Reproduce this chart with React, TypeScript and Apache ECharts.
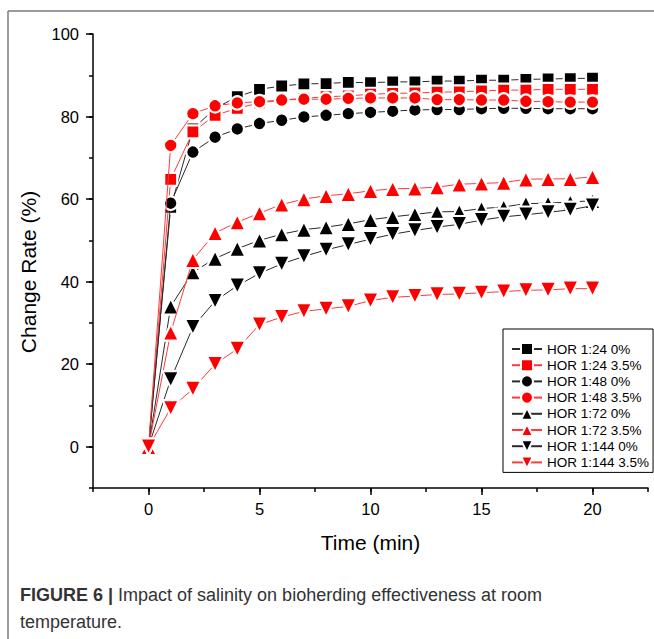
import React, { useEffect, useRef } from "react";
import * as echarts from "echarts";

const times = [0, 1, 2, 3, 4, 5, 6, 7, 8, 9, 10, 11, 12, 13, 14, 15, 16, 17, 18, 19, 20];

const hor24_0 = [0, 58, 77, 82, 84.8, 86.6, 87.4, 87.9, 88, 88.3, 88.2, 88.4, 88.4, 88.6, 88.6, 88.8, 88.8, 89, 89.1, 89.2, 89.3];
const hor24_35 = [0, 64.8, 76.3, 80.3, 82, 83.3, 84, 84.4, 84.8, 85, 85.4, 85.6, 85.7, 85.9, 86, 86.2, 86.4, 86.4, 86.6, 86.6, 86.6];
const hor48_0 = [0, 59, 71.4, 75, 77, 78.3, 79.1, 79.9, 80.3, 80.7, 81, 81.3, 81.6, 81.7, 81.7, 81.9, 82, 82, 81.9, 81.9, 81.9];
const hor48_35 = [0, 73, 80.7, 82.6, 83.3, 83.6, 84, 84.2, 84.2, 84.4, 84.5, 84.5, 84.5, 84.1, 84.1, 84, 84, 83.7, 83.6, 83.5, 83.5];
const hor72_0 = [0, 34, 42.3, 45.6, 48, 50, 51.5, 52.6, 53.2, 54, 55, 55.7, 56.3, 56.9, 57, 57.7, 58.1, 58.9, 59, 59.3, 59.6];
const hor72_35 = [0, 27.7, 45.3, 51.8, 54.4, 56.6, 58.7, 60, 60.8, 61.3, 62, 62.5, 62.6, 62.9, 63.6, 63.8, 64, 64.8, 64.9, 64.9, 65.4];
const hor144_0 = [0, 16.3, 29, 35.3, 39, 42, 44.3, 46.1, 47.7, 49, 50.3, 51.5, 52.4, 53.2, 53.9, 54.9, 55.7, 56.2, 56.8, 57.4, 58.4];
const hor144_35 = [0, 9.3, 14, 20, 23.7, 29.6, 31.4, 32.8, 33.4, 34, 35.4, 36.2, 36.5, 36.9, 37, 37.3, 37.6, 37.9, 38, 38.3, 38.3];

const seriesNames = [
  "HOR 1:24 0%",
  "HOR 1:24 3.5%",
  "HOR 1:48 0%",
  "HOR 1:48 3.5%",
  "HOR 1:72 0%",
  "HOR 1:72 3.5%",
  "HOR 1:144 0%",
  "HOR 1:144 3.5%",
];
const seriesValues = [hor24_0, hor24_35, hor48_0, hor48_35, hor72_0, hor72_35, hor144_0, hor144_35];

const yTickLabels = ["0", "20", "40", "60", "80", "100"];
const xTickLabels = ["0", "5", "10", "15", "20"];

const FONT = "'Liberation Sans', Arial, sans-serif";
const DOWN_TRI = "path://M0,0 L2,0 L1,1.8 Z";
const UP_TRI = "path://M1,0 L2,1.8 L0,1.8 Z";

export default function App() {
  const ref = useRef<HTMLDivElement>(null);

  useEffect(() => {
    if (!ref.current) return;
    const chart = echarts.init(ref.current, null, { renderer: "svg" });

    const symbols = ["rect", "rect", "circle", "circle", UP_TRI, UP_TRI, DOWN_TRI, DOWN_TRI];
    const sizes = [13, 13, 13.5, 13.5, 16.5, 16.5, 16.5, 16.5];

    const series = seriesNames.map((name, i) => {
      const red = i % 2 === 1;
      return {
        name,
        type: "line",
        xAxisIndex: 0,
        yAxisIndex: 0,
        data: times.map((t, k) => [t, seriesValues[i][k]]),
        symbol: symbols[i],
        symbolSize: sizes[i],
        showAllSymbol: true,
        clip: false,
        lineStyle: { color: red ? "#ff3a3a" : "#2a2a2a", width: 1 },
        itemStyle: {
          color: red ? "#ff0000" : "#000000",
          borderColor: "#ffffff",
          borderWidth: 2.2,
        },
        z: 3 + i,
      };
    });

    chart.setOption({
      animation: false,
      textStyle: { fontFamily: FONT },
      grid: [
        { left: 93, right: 6, top: 34, bottom: 151 },
        { left: 148.5, right: 61.5, top: 34, bottom: 192.3 },
      ],
      xAxis: [
        {
          type: "value",
          gridIndex: 0,
          min: -2.5,
          max: 22.5,
          interval: 2.5,
          axisLine: { show: true, onZero: false, lineStyle: { color: "#000", width: 1.5 } },
          axisTick: { show: true, length: 4, lineStyle: { color: "#000", width: 1.5 } },
          axisLabel: { show: false },
          splitLine: { show: false },
          name: "Time (min)",
          nameLocation: "middle",
          nameGap: 44,
          nameTextStyle: { fontSize: 21, color: "#000", fontFamily: FONT },
        },
        {
          type: "value",
          gridIndex: 1,
          min: 0,
          max: 20,
          interval: 5,
          position: "bottom",
          offset: 41.3,
          axisLine: { show: false, onZero: false },
          axisTick: { show: true, length: 7, lineStyle: { color: "#000", width: 1.5 } },
          axisLabel: {
            show: true,
            fontSize: 16.5,
            color: "#000",
            margin: 12,
            fontFamily: FONT,
            formatter: (v: number) => xTickLabels[Math.round(v / 5)] ?? "",
          },
          splitLine: { show: false },
        },
      ],
      yAxis: [
        {
          type: "value",
          gridIndex: 0,
          min: -10,
          max: 100,
          interval: 10,
          axisLine: { show: true, onZero: false, lineStyle: { color: "#000", width: 1.5 } },
          axisTick: { show: true, length: 4, lineStyle: { color: "#000", width: 1.5 } },
          axisLabel: { show: false },
          splitLine: { show: false },
        },
        {
          type: "value",
          gridIndex: 1,
          min: 0,
          max: 100,
          interval: 20,
          position: "left",
          offset: 55.5,
          axisLine: { show: false, onZero: false },
          axisTick: { show: true, length: 7, lineStyle: { color: "#000", width: 1.5 } },
          axisLabel: {
            show: true,
            fontSize: 16.5,
            color: "#000",
            margin: 14,
            fontFamily: FONT,
            formatter: (v: number) => yTickLabels[Math.round(v / 20)] ?? "",
          },
          splitLine: { show: false },
        },
      ],
      legend: {
        show: true,
        orient: "vertical",
        left: 503,
        top: 329,
        padding: [13, 4, 3, 8],
        itemWidth: 30,
        itemHeight: 15,
        itemGap: 2.2,
        borderColor: "#000",
        borderWidth: 1,
        backgroundColor: "#fff",
        textStyle: { fontSize: 13.5, color: "#000", fontFamily: FONT, lineHeight: 13 },
        data: seriesNames,
      },
      graphic: [
        {
          type: "line",
          shape: { x1: 8, y1: 11, x2: 654, y2: 11 },
          style: { stroke: "#7a7a7a", lineWidth: 1.5 },
          silent: true,
        },
        {
          type: "line",
          shape: { x1: 8, y1: 11, x2: 8, y2: 639 },
          style: { stroke: "#7a7a7a", lineWidth: 1.5 },
          silent: true,
        },
        {
          type: "text",
          x: 28,
          y: 272,
          rotation: Math.PI / 2,
          style: {
            text: "Change Rate (%)",
            fontSize: 21,
            fontFamily: FONT,
            fill: "#000",
            align: "center",
            verticalAlign: "middle",
          },
          silent: true,
        },
        {
          type: "text",
          left: 20,
          top: 586,
          style: {
            text: "{b|FIGURE 6 |} Impact of salinity on bioherding effectiveness at room",
            fontSize: 18,
            fontFamily: FONT,
            fill: "#333",
            rich: {
              b: { fontWeight: "bold", fontSize: 18, fontFamily: FONT, fill: "#333" },
            },
          },
          silent: true,
        },
        {
          type: "text",
          left: 20,
          top: 613,
          style: {
            text: "temperature.",
            fontSize: 18,
            fontFamily: FONT,
            fill: "#333",
          },
          silent: true,
        },
      ],
      series,
    });

    return () => chart.dispose();
  }, []);

  return (
    <div
      ref={ref}
      style={{ position: "fixed", left: 0, top: 0, width: 654, height: 639, background: "#fff" }}
    />
  );
}
